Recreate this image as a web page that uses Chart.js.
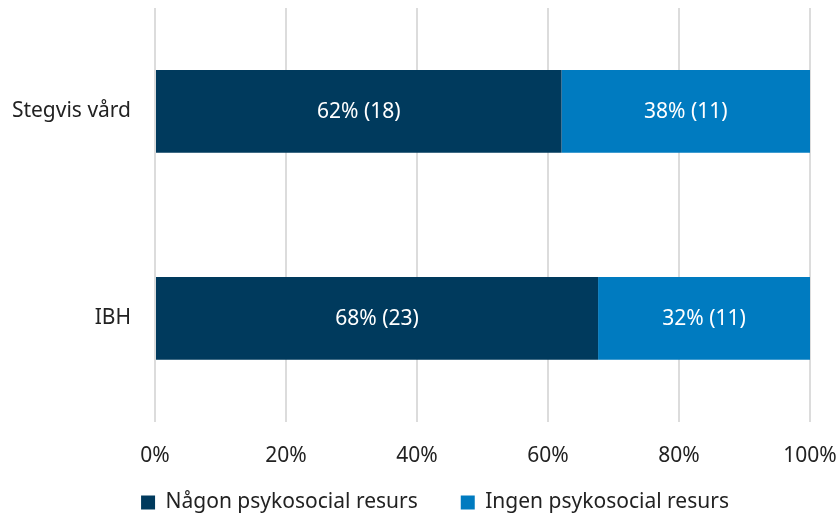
<!DOCTYPE html>
<html lang="sv">
<head>
<meta charset="utf-8">
<script src="https://cdn.jsdelivr.net/npm/chart.js@4/dist/chart.umd.min.js"></script>
<style>
  html, body { margin: 0; padding: 0; background: #ffffff; }
  #wrap { width: 838px; height: 517px; position: relative; }
</style>
</head>
<body>
<div id="wrap"><canvas id="chart"></canvas></div>
<script>
// Groups and respondent counts per answer
const categories = ['Stegvis vård', 'IBH'];
const seriesNames = ['Någon psykosocial resurs', 'Ingen psykosocial resurs'];
const countsSome = [18, 23];
const countsNone = [11, 11];
const xTicks = [0, 20, 40, 60, 80, 100];

const colors = ['#003a5d', '#007bc0'];

// Share of each group, in percent
const totals = categories.map((_, i) => countsSome[i] + countsNone[i]);
const pctSome = countsSome.map((c, i) => c / totals[i] * 100);
const pctNone = countsNone.map((c, i) => c / totals[i] * 100);

const FONT = '"Noto Sans", "Open Sans", sans-serif';
const FS = 21;
const LEGEND_GAP = 43;      // space between the two legend entries
const LEGEND_HEIGHT = 48;   // room reserved for the legend row
const LEGEND_LIFT = 20;     // moves the legend row up into that room
const LEGEND_SHIFT = 25;    // nudges the legend row to the right

// Writes "NN% (n)" in the middle of each bar segment
const segmentLabels = {
  id: 'segmentLabels',
  afterDatasetsDraw(chart) {
    const ctx = chart.ctx;
    ctx.save();
    ctx.font = FS + 'px ' + FONT;
    ctx.fillStyle = '#ffffff';
    ctx.textAlign = 'center';
    ctx.textBaseline = 'middle';
    chart.data.datasets.forEach((ds, di) => {
      const meta = chart.getDatasetMeta(di);
      meta.data.forEach((bar, i) => {
        const p = ds.data[i];
        const n = ds.counts[i];
        const cx = (bar.x + bar.base) / 2;
        ctx.fillText(Math.round(p) + '% (' + n + ')', cx, bar.y + 1);
      });
    });
    ctx.restore();
  }
};

// Wide gap between legend entries without a tall legend box
const compactLegend = {
  id: 'compactLegend',
  afterInit(chart) {
    const lg = chart.legend;
    if (!lg) return;
    const fit = lg.fit.bind(lg);
    lg.fit = function () {
      fit();
      this.height = LEGEND_HEIGHT;
    };
  },
  afterLayout(chart) {
    const lg = chart.legend;
    if (!lg) return;
    lg.top -= LEGEND_LIFT;
    lg.left += LEGEND_SHIFT;
    lg.right += LEGEND_SHIFT;
  }
};

new Chart(document.getElementById('chart'), {
  type: 'bar',
  data: {
    labels: categories,
    datasets: [
      { label: seriesNames[0], data: pctSome, counts: countsSome, backgroundColor: colors[0] },
      { label: seriesNames[1], data: pctNone, counts: countsNone, backgroundColor: colors[1] }
    ]
  },
  options: {
    indexAxis: 'y',
    responsive: true,
    maintainAspectRatio: false,
    animation: false,
    layout: { padding: { top: 8, right: 28, left: 10, bottom: 0 } },
    datasets: { bar: { barPercentage: 0.4, categoryPercentage: 1.0, borderWidth: 0 } },
    scales: {
      x: {
        stacked: true,
        min: 0,
        max: 100,
        afterBuildTicks(axis) { axis.ticks = xTicks.map(v => ({ value: v })); },
        // the default fit counts the label padding twice; keep it once
        afterFit(axis) {
          const pad = axis.options.ticks.padding;
          axis.height -= pad;
          axis.paddingLeft = Math.max(axis.paddingLeft - pad, 0);
          axis.paddingRight = Math.max(axis.paddingRight - pad, 0);
        },
        ticks: {
          callback: v => v + '%',
          color: '#222222',
          font: { family: FONT, size: FS },
          padding: 22
        },
        grid: { color: '#dcdcdc', lineWidth: 2, drawTicks: false },
        border: { display: false }
      },
      y: {
        stacked: true,
        afterFit(axis) {
          axis.width = 145;
          axis.paddingTop = 0;
          axis.paddingBottom = 0;
        },
        ticks: {
          color: '#222222',
          font: { family: FONT, size: FS },
          padding: 24
        },
        grid: { display: false, drawTicks: false },
        border: { display: false }
      }
    },
    plugins: {
      legend: {
        position: 'bottom',
        labels: {
          boxWidth: 14,
          boxHeight: 14,
          padding: LEGEND_GAP,
          color: '#222222',
          font: { family: FONT, size: FS }
        }
      },
      tooltip: { enabled: false }
    }
  },
  plugins: [segmentLabels, compactLegend]
});
</script>
</body>
</html>
